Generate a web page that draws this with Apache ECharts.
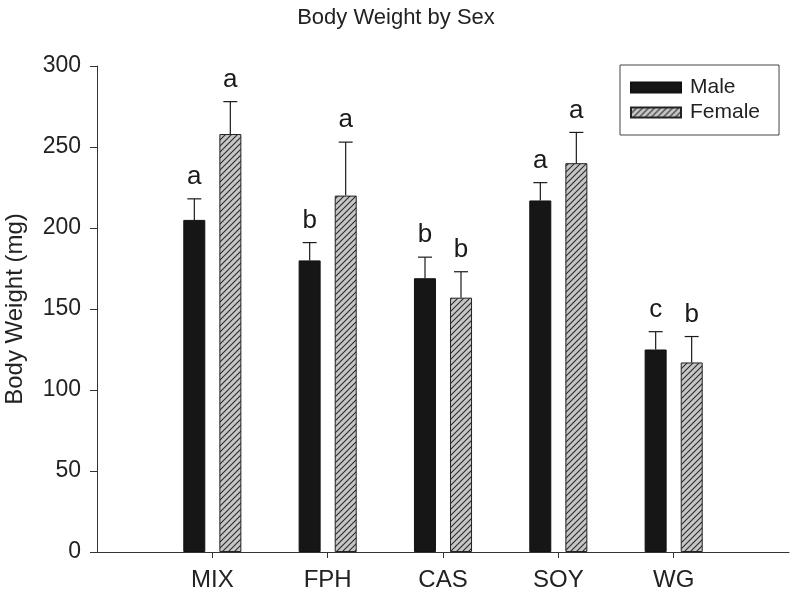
<!DOCTYPE html>
<html>
<head>
<meta charset="utf-8">
<script src="https://cdn.jsdelivr.net/npm/echarts@6/dist/echarts.min.js"></script>
<style>html,body{margin:0;padding:0;background:#fff;}#c{width:792px;height:594px;}</style>
</head>
<body>
<div id="c"></div>
<script>
var categories = ['MIX', 'FPH', 'CAS', 'SOY', 'WG'];
var maleValues = [205, 180, 169, 217, 125];
var maleErrors = [13, 11, 13, 11, 11];
var maleLetters = ['a', 'b', 'b', 'a', 'c'];
var femaleValues = [258, 220, 157, 240, 117];
var femaleErrors = [20, 33, 16, 19, 16];
var femaleLetters = ['a', 'a', 'b', 'a', 'b'];
var yTicks = [0, 50, 100, 150, 200, 250, 300];

var FONT = '"Liberation Sans", Arial, sans-serif';

// hatch pattern
var pc = document.createElement('canvas');
pc.width = 6; pc.height = 6;
var g = pc.getContext('2d');
g.fillStyle = '#c6c6c6';
g.fillRect(0, 0, 6, 6);
g.strokeStyle = '#2b2b2b';
g.lineWidth = 1.1;
g.beginPath();
g.moveTo(-1, 7); g.lineTo(7, -1);
g.moveTo(-4, 4); g.lineTo(4, -4);
g.moveTo(2, 10); g.lineTo(10, 2);
g.stroke();

var axisCats = [''].concat(categories).concat(['']);
function pad(arr) { return [null].concat(arr).concat([null]); }
function errData(vals, errs) { return vals.map(function (v, i) { return [i + 1, v, errs[i]]; }); }

function makeRender(offset, letters) {
  return function (params, api) {
    var x = api.value(0), v = api.value(1), e = api.value(2);
    var base = api.coord([x, v]);
    var top = api.coord([x, v + e]);
    var cx = base[0] + offset;
    var st = { stroke: '#1a1a1a', lineWidth: 1.2 };
    return {
      type: 'group',
      children: [
        { type: 'line', shape: { x1: cx, y1: base[1], x2: cx, y2: top[1] }, style: st },
        { type: 'line', shape: { x1: cx - 7, y1: top[1], x2: cx + 7, y2: top[1] }, style: st },
        { type: 'text', style: { text: letters[params.dataIndex], x: cx, y: top[1] - 22,
          textAlign: 'center', textVerticalAlign: 'middle', fontSize: 26, fontFamily: FONT, fill: '#1a1a1a' } }
      ]
    };
  };
}

var chart = echarts.init(document.getElementById('c'), null, { renderer: 'canvas' });
chart.setOption({
  animation: false,
  backgroundColor: '#fff',
  title: {
    text: 'Body Weight by Sex', left: 'center', top: 2,
    textStyle: { fontFamily: FONT, fontSize: 22, fontWeight: 'normal', color: '#222' }
  },
  legend: {
    orient: 'vertical', left: 620, top: 65,
    data: ['Male', 'Female'],
    icon: 'rect', itemWidth: 50, itemHeight: 10, itemGap: 4,
    padding: [12, 19, 12, 10],
    borderColor: '#444', borderWidth: 1,
    textStyle: { fontFamily: FONT, fontSize: 21, color: '#222', padding: [0, 0, 0, 4] }
  },
  grid: { left: 97, right: 3, top: 66, bottom: 42, containLabel: false, outerBoundsMode: 'none' },
  xAxis: {
    type: 'category', data: axisCats, boundaryGap: false,
    axisLine: { lineStyle: { color: '#333', width: 1 } },
    axisTick: { length: 6, interval: function (i) { return i >= 1 && i <= categories.length; }, lineStyle: { color: '#333' } },
    axisLabel: { interval: 0, margin: 16, fontFamily: FONT, fontSize: 24, color: '#222' },
    splitLine: { show: false }
  },
  yAxis: {
    type: 'value', min: yTicks[0], max: yTicks[yTicks.length - 1], interval: 50,
    name: 'Body Weight (mg)', nameLocation: 'middle', nameGap: 70,
    nameTextStyle: { fontFamily: FONT, fontSize: 24, color: '#222' },
    axisLine: { show: true, lineStyle: { color: '#333', width: 1 } },
    axisTick: { show: true, length: 7, lineStyle: { color: '#333' } },
    axisLabel: { margin: 16, fontFamily: FONT, fontSize: 23, color: '#222' },
    splitLine: { show: false }
  },
  series: [
    { name: 'Male', type: 'bar', data: pad(maleValues), barWidth: 22, barGap: '64%',
      itemStyle: { color: '#161616', borderColor: '#111', borderWidth: 1 } },
    { name: 'Female', type: 'bar', data: pad(femaleValues), barWidth: 22,
      itemStyle: { color: { image: pc, repeat: 'repeat' }, borderColor: '#222', borderWidth: 1 } },
    { type: 'custom', data: errData(maleValues, maleErrors), renderItem: makeRender(-18, maleLetters), z: 5 },
    { type: 'custom', data: errData(femaleValues, femaleErrors), renderItem: makeRender(18, femaleLetters), z: 5 }
  ]
});
</script>
</body>
</html>
